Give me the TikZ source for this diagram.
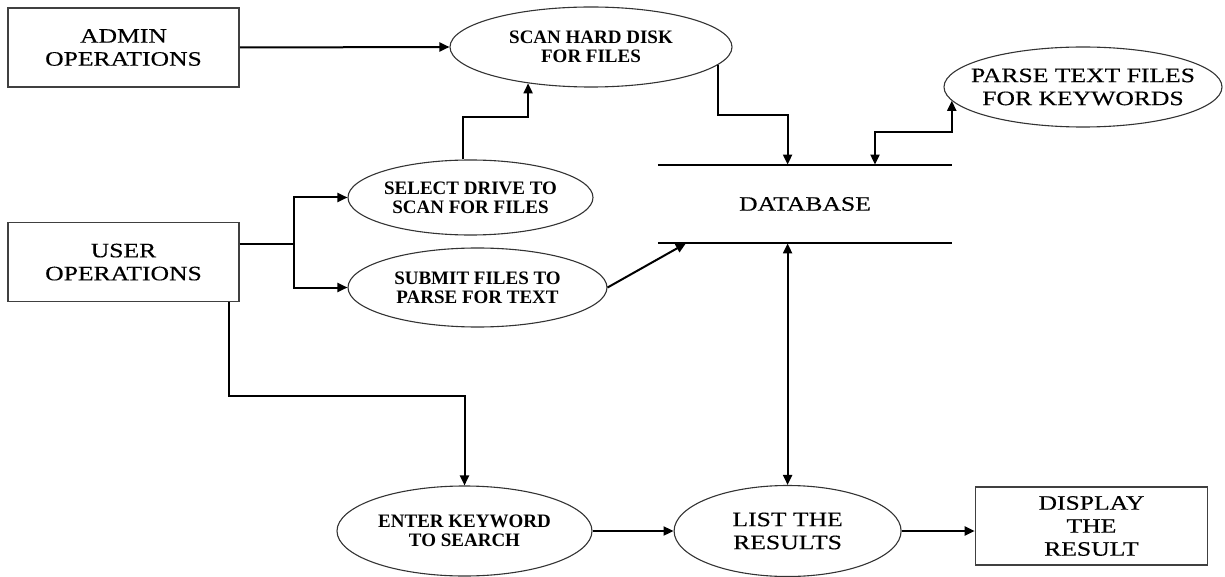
\documentclass[tikz,border=0pt]{standalone}
\usepackage{fontspec}
\setmainfont{Liberation Serif}
\newfontfamily\wideserif[FakeStretch=1.25,FakeBold=0.3]{Liberation Serif}
\usetikzlibrary{arrows.meta,positioning,shapes.geometric}
\newcommand\boxfont{\wideserif\fontsize{10.25pt}{11.5pt}\selectfont}
\newcommand\procfont{\fontsize{9.5pt}{9.5pt}\selectfont\bfseries}

\begin{document}
\begin{tikzpicture}[x=0.5pt, y=-0.5pt, >={Triangle[length=5pt,width=4.5pt]},
  every node/.style={font=\boxfont, align=center},
  opbox/.style={draw=black!75, line width=0.8pt, minimum width=115.5pt, minimum height=39.5pt, inner sep=0pt},
  proc/.style={ellipse, draw=black!80, line width=0.55pt, inner xsep=-10pt, inner ysep=0pt},
  flow/.style={->, line width=1pt}]
  \useasboundingbox (0,0) rectangle (1225,577);

  \node[opbox] (admin) at (123.5,47.5) {ADMIN\\OPERATIONS};
  \node[opbox, below=67pt of admin] (user) {USER\\OPERATIONS};

  \node[proc, font=\procfont, minimum width=141pt, minimum height=40pt] (scan) at (591,47) {SCAN HARD DISK\\FOR FILES};
  \node[proc, font=\procfont, minimum width=122.5pt, minimum height=37.5pt] (select) at (470.5,197.5) {SELECT DRIVE TO\\SCAN FOR FILES};
  \node[proc, font=\procfont, minimum width=129.5pt, minimum height=39.5pt] (submit) at (477.5,287.5) {SUBMIT FILES TO\\PARSE FOR TEXT};
  \node[proc, minimum width=139pt, minimum height=40pt] (parse) at (1083,87) {PARSE TEXT FILES\\FOR KEYWORDS};

  \node[minimum width=146.75pt, minimum height=39pt, inner sep=0pt] (db) at (805,204) {DATABASE};
  \draw[line width=1pt] (db.north west) -- (db.north east) (db.south west) -- (db.south east);

  \node[proc, font=\procfont, minimum width=127.5pt, minimum height=45pt] (enter) at (464.5,531) {ENTER KEYWORD\\TO SEARCH};
  \node[proc, minimum width=113.5pt, minimum height=45.5pt, right=40.5pt of enter] (list) {LIST THE\\RESULTS};
  \node[opbox, minimum width=116pt, minimum height=39pt, right=36.5pt of list, yshift=2.5pt] (display) {DISPLAY\\THE\\RESULT};

  % admin side
  \draw[flow] (admin.east) -- (scan.west);
  \draw[flow] ([xshift=-3.75pt]select.north) -- ++(0,-42) -| (scan.210);
  \draw[flow] (scan.-8) -- ++(0,50) -| (list.north |- db.north);
  \draw[flow, <->] ([xshift=35pt]db.north) -- ++(0,-33) -| (parse.186);

  % user side
  \draw[flow] (user.9) -- ++(54,0) |- (select);
  \draw[flow] (user.9) -- ++(54,0) |- (submit);
  \draw[flow] (submit.east) -- ([xshift=14pt]db.south west);
  \draw[flow] ([xshift=-5.5pt]user.south east) -- ++(0,94) -| (enter);

  % search
  \draw[flow, <->] (list.north |- db.south) -- (list.north);
  \draw[flow] (enter) -- (list);
  \draw[flow] (list.east) -- (list.east -| display.west);
\end{tikzpicture}
\end{document}
